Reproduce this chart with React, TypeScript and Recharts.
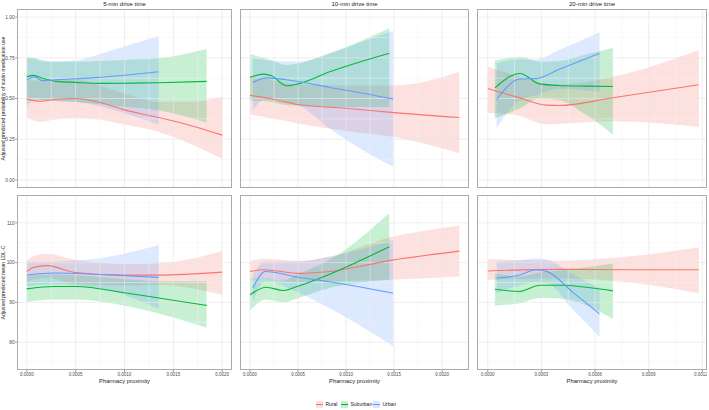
import React from 'react';
import { ComposedChart, Area, Line, XAxis, YAxis, ReferenceLine } from 'recharts';

// each row: [pharmacy proximity, fitted value, lower CI, upper CI]
type Row = [number, number, number, number];

// statin medication use (probability)
const statinRural5: Row[] = [
  [0, 0.496, 0.383, 0.61], [0.00014, 0.483, 0.356, 0.61], [0.0003, 0.495, 0.372, 0.615],
  [0.0005, 0.5, 0.38, 0.62], [0.00075, 0.475, 0.37, 0.58], [0.001, 0.43, 0.34, 0.53],
  [0.00135, 0.383, 0.294, 0.48], [0.0017, 0.33, 0.215, 0.48], [0.002, 0.275, 0.13, 0.51],
];
const statinSuburban5: Row[] = [
  [0, 0.633, 0.5, 0.753], [0.00007, 0.642, 0.5, 0.75], [0.00016, 0.625, 0.49, 0.735],
  [0.0003, 0.605, 0.485, 0.726], [0.0005, 0.599, 0.479, 0.726], [0.00075, 0.593, 0.465, 0.73],
  [0.001, 0.594, 0.45, 0.737], [0.00135, 0.597, 0.428, 0.747], [0.00184, 0.605, 0.352, 0.804],
];
const statinUrban5: Row[] = [
  [0, 0.613, 0.452, 0.747], [0.00008, 0.633, 0.49, 0.745], [0.00016, 0.61, 0.49, 0.726],
  [0.0003, 0.615, 0.485, 0.728], [0.0005, 0.621, 0.479, 0.733], [0.0007, 0.628, 0.459, 0.765],
  [0.001, 0.643, 0.41, 0.82], [0.00135, 0.664, 0.34, 0.886],
];
const statinRural10: Row[] = [
  [0, 0.52, 0.401, 0.64], [0.00025, 0.494, 0.375, 0.61], [0.0005, 0.463, 0.346, 0.585],
  [0.001, 0.44, 0.3, 0.58], [0.0015, 0.413, 0.263, 0.58], [0.00218, 0.383, 0.164, 0.664],
];
const statinSuburban10: Row[] = [
  [0, 0.63, 0.488, 0.772], [0.00014, 0.65, 0.485, 0.75], [0.000225, 0.64, 0.479, 0.735],
  [0.00038, 0.578, 0.46, 0.706], [0.0005, 0.59, 0.455, 0.715], [0.00083, 0.664, 0.448, 0.778],
  [0.00145, 0.778, 0.448, 0.932],
];
const statinUrban10: Row[] = [
  [0.00003, 0.599, 0.428, 0.747], [0.00017, 0.627, 0.5, 0.735], [0.0005, 0.604, 0.46, 0.726],
  [0.00083, 0.568, 0.315, 0.778], [0.00118, 0.532, 0.181, 0.85], [0.00149, 0.496, 0.082, 0.917],
];
const statinRural20: Row[] = [
  [0, 0.562, 0.411, 0.695], [0.00016, 0.51, 0.397, 0.64], [0.00033, 0.459, 0.341, 0.59],
  [0.0004, 0.457, 0.345, 0.585], [0.0007, 0.505, 0.36, 0.633], [0.00118, 0.584, 0.325, 0.798],
];
const statinSuburban20: Row[] = [
  [0.00004, 0.565, 0.377, 0.732], [0.00018, 0.654, 0.44, 0.757], [0.00029, 0.59, 0.5, 0.726],
  [0.0004, 0.58, 0.49, 0.73], [0.00055, 0.576, 0.4, 0.77], [0.0007, 0.574, 0.278, 0.812],
];
const statinUrban20: Row[] = [
  [0.00005, 0.494, 0.319, 0.716], [0.00018, 0.62, 0.49, 0.74], [0.00027, 0.622, 0.52, 0.74],
  [0.0004, 0.68, 0.56, 0.798], [0.000625, 0.778, 0.541, 0.907],
];

// mean LDL-C
const ldlRural5: Row[] = [
  [0, 97.75, 95, 100.4], [0.00007, 98.8, 95.8, 101.6], [0.00021, 99.25, 96.2, 102.2],
  [0.0005, 97.5, 94.6, 100.7], [0.001, 96.85, 94.2, 99.6], [0.00135, 96.85, 94.4, 99.8],
  [0.002, 97.6, 91.9, 102.9],
];
const ldlSuburban5: Row[] = [
  [0, 93.4, 90.1, 96.7], [0.00028, 94, 90.7, 97], [0.0005, 94, 90.7, 96.8],
  [0.00103, 92.3, 89, 95.8], [0.00135, 91.1, 87.2, 95.3], [0.00184, 89.25, 83.6, 95.3],
];
const ldlUrban5: Row[] = [
  [0, 96.9, 94, 100.2], [0.00028, 97.4, 94.5, 100.3], [0.00075, 97, 93.5, 101.1],
  [0.00135, 96.3, 88.4, 104.4],
];
const ldlRural10: Row[] = [
  [0, 97.75, 95.7, 100.4], [0.00014, 98.2, 96, 101], [0.0005, 97.3, 95, 100.5],
  [0.00083, 97.75, 95.3, 101.5], [0.00145, 100.5, 95.7, 106.3], [0.00218, 102.9, 96.5, 109.3],
];
const ldlSuburban10: Row[] = [
  [0, 91.9, 87.9, 96.1], [0.00017, 93.8, 90.7, 96.1], [0.00035, 93, 90, 95.5],
  [0.00049, 94, 91, 97], [0.00083, 97.1, 93.6, 100.7], [0.00145, 104, 95.7, 112.5],
];
const ldlUrban10: Row[] = [
  [0.00003, 93.6, 90.2, 97], [0.00016, 97.75, 95.3, 100.3], [0.0005, 96.3, 92.5, 100.3],
  [0.00083, 95.2, 88.5, 101.5], [0.00149, 92.3, 79, 105.7],
];
const ldlRural20: Row[] = [
  [0, 97.9, 95.7, 100.9], [0.0004, 98.3, 96, 100.5], [0.0008, 98.2, 95, 101.6],
  [0.00118, 98.2, 92.3, 103.8],
];
const ldlSuburban20: Row[] = [
  [0.00004, 93.3, 89.2, 97.3], [0.00018, 92.75, 89.8, 96.5], [0.00029, 94.3, 91.1, 97.5],
  [0.0004, 94.3, 91, 98], [0.0007, 92.9, 85.9, 99.8],
];
const ldlUrban20: Row[] = [
  [0.00005, 96.1, 92.3, 100.3], [0.00018, 96.9, 94.3, 100.6], [0.00027, 98.2, 95, 101.1],
  [0.00033, 97.8, 94.8, 100.8], [0.00048, 92.4, 88, 97], [0.000625, 87.1, 81.3, 93.6],
];

const seriesNames = ['Rural', 'Suburban', 'Urban'];
const driveTimes = ['5-min drive time', '10-min drive time', '20-min drive time'];
const xTicks5 = [0, 0.0005, 0.001, 0.0015, 0.002];
const xTicks10 = [0, 0.0005, 0.001, 0.0015, 0.002];
const xTicks20 = [0, 0.0003, 0.0006, 0.0009, 0.0012];
const statinTicks = [0, 0.25, 0.5, 0.75, 1];
const ldlTicks = [80, 90, 100, 110];
const yTitles = ['Adjusted predicted probability of statin medication use', 'Adjusted predicted mean LDL-C'];

const colors = ['#F8766D', '#00BA38', '#619CFF'];
const xDomains: [number, number][] = [[-0.0001, 0.0021], [-0.000104, 0.00228], [-0.00006, 0.001226]];
const yDomains: [number, number][] = [[-0.05, 1.05], [73, 117]];
const xTicks = [xTicks5, xTicks10, xTicks20];
const yTicks = [statinTicks, ldlTicks];
const colLeft = [17, 240, 477];
const colRight = [232, 469, 707];
const rowTop = [9, 195];
const rowBottom = [188, 370];
const FONT = '"Liberation Sans", Arial, sans-serif';

const panels: Row[][][] = [
  [
    [statinRural5, statinSuburban5, statinUrban5],
    [statinRural10, statinSuburban10, statinUrban10],
    [statinRural20, statinSuburban20, statinUrban20],
  ],
  [
    [ldlRural5, ldlSuburban5, ldlUrban5],
    [ldlRural10, ldlSuburban10, ldlUrban10],
    [ldlRural20, ldlSuburban20, ldlUrban20],
  ],
];

const toPoints = (rows: Row[]) => rows.map(([x, fit, lo, hi]) => ({ x, fit, band: [lo, hi] }));

// midpoints between major breaks, plus one step past each end, kept inside the domain
const minorOf = (ticks: number[], domain: [number, number]) => {
  const step = ticks[1] - ticks[0];
  const out: number[] = [];
  for (let i = -1; i < ticks.length; i++) {
    const v = ticks[0] + step * (i + 0.5);
    if (v > domain[0] && v < domain[1]) out.push(v);
  }
  return out;
};

const Panel = ({ row, col }: { row: number; col: number }) => {
  const left = col === 0 ? 0 : colLeft[col];
  const width = colRight[col] - left;
  const height = rowBottom[row] - rowTop[row] + (row === 1 ? 14 : 0);
  const xd = xDomains[col];
  const yd = yDomains[row];
  const series = panels[row][col].map(toPoints);
  return (
    <div style={{ position: 'absolute', left, top: rowTop[row] }}>
      <ComposedChart width={width} height={height} margin={{ top: 0, right: 0, bottom: 0, left: 0 }}>
        <XAxis
          type="number"
          dataKey="x"
          domain={xd}
          ticks={xTicks[col]}
          allowDataOverflow
          hide={row === 0}
          height={14}
          tickSize={2}
          tickMargin={1}
          axisLine={false}
          tickLine={{ stroke: '#555', strokeWidth: 0.6 }}
          tick={{ fontSize: 4.5, fill: '#4d4d4d', fontFamily: FONT }}
          tickFormatter={(v: number) => v.toFixed(4)}
        />
        <YAxis
          type="number"
          domain={yd}
          ticks={yTicks[row]}
          allowDataOverflow
          hide={col !== 0}
          width={17}
          tickSize={1.8}
          tickMargin={0.5}
          axisLine={false}
          tickLine={{ stroke: '#555', strokeWidth: 0.6 }}
          tick={{ fontSize: 4.8, fill: '#4d4d4d', fontFamily: FONT }}
          tickFormatter={(v: number) => (row === 0 ? v.toFixed(2) : String(v))}
        />
        {minorOf(yTicks[row], yd).map((v) => (
          <ReferenceLine key={'ym' + v} y={v} stroke="#F2F2F2" strokeWidth={0.5} />
        ))}
        {minorOf(xTicks[col], xd).map((v) => (
          <ReferenceLine key={'xm' + v} x={v} stroke="#F2F2F2" strokeWidth={0.5} />
        ))}
        {yTicks[row].map((v) => (
          <ReferenceLine key={'y' + v} y={v} stroke="#E6E6E6" strokeWidth={0.7} />
        ))}
        {xTicks[col].map((v) => (
          <ReferenceLine key={'x' + v} x={v} stroke="#E6E6E6" strokeWidth={0.7} />
        ))}
        {series.flatMap((pts, i) => [
          <Area
            key={'a' + i}
            data={pts}
            dataKey="band"
            type="monotone"
            stroke="none"
            fill={colors[i]}
            fillOpacity={0.22}
            isAnimationActive={false}
          />,
          <Line
            key={'l' + i}
            data={pts}
            dataKey="fit"
            type="monotone"
            stroke={colors[i]}
            strokeWidth={1.1}
            dot={false}
            activeDot={false}
            isAnimationActive={false}
          />,
        ])}
      </ComposedChart>
    </div>
  );
};

export default function App() {
  const legendX = [316, 341, 373];
  return (
    <div style={{ position: 'absolute', left: 0, top: 0, width: 709, height: 410, background: '#fff', fontFamily: FONT }}>
      {[0, 1].map((row) => [0, 1, 2].map((col) => <Panel key={row + '-' + col} row={row} col={col} />))}
      <svg width={709} height={410} style={{ position: 'absolute', left: 0, top: 0, pointerEvents: 'none' }}>
        {[0, 1].map((row) =>
          [0, 1, 2].map((col) => (
            <rect
              key={'b' + row + col}
              x={colLeft[col] + 0.5}
              y={rowTop[row] + 0.5}
              width={colRight[col] - colLeft[col] - 1}
              height={rowBottom[row] - rowTop[row] - 1}
              fill="none"
              stroke="#ababab"
              strokeWidth={1}
            />
          ))
        )}
        {driveTimes.map((t, col) => (
          <text key={t} x={(colLeft[col] + colRight[col]) / 2} y={6} textAnchor="middle" fontSize={6} fill="#1a1a1a" fontFamily={FONT}>
            {t}
          </text>
        ))}
        {[0, 1, 2].map((col) => (
          <text key={'xt' + col} x={(colLeft[col] + colRight[col]) / 2} y={382.8} textAnchor="middle" fontSize={5.8} fill="#1a1a1a" fontFamily={FONT}>
            Pharmacy proximity
          </text>
        ))}
        {yTitles.map((t, row) => {
          const cy = (rowTop[row] + rowBottom[row]) / 2;
          return (
            <text key={t} x={5.2} y={cy} transform={`rotate(-90 5.2 ${cy})`} textAnchor="middle" fontSize={5.2} fill="#1a1a1a" fontFamily={FONT}>
              {t}
            </text>
          );
        })}
        {seriesNames.map((name, i) => (
          <g key={name}>
            <rect x={legendX[i]} y={401} width={7} height={7} fill={colors[i]} fillOpacity={0.22} />
            <line x1={legendX[i]} x2={legendX[i] + 7} y1={404.5} y2={404.5} stroke={colors[i]} strokeWidth={1.1} />
            <text x={legendX[i] + 9.5} y={406.3} fontSize={5} fill="#1a1a1a" fontFamily={FONT}>
              {name}
            </text>
          </g>
        ))}
      </svg>
    </div>
  );
}
